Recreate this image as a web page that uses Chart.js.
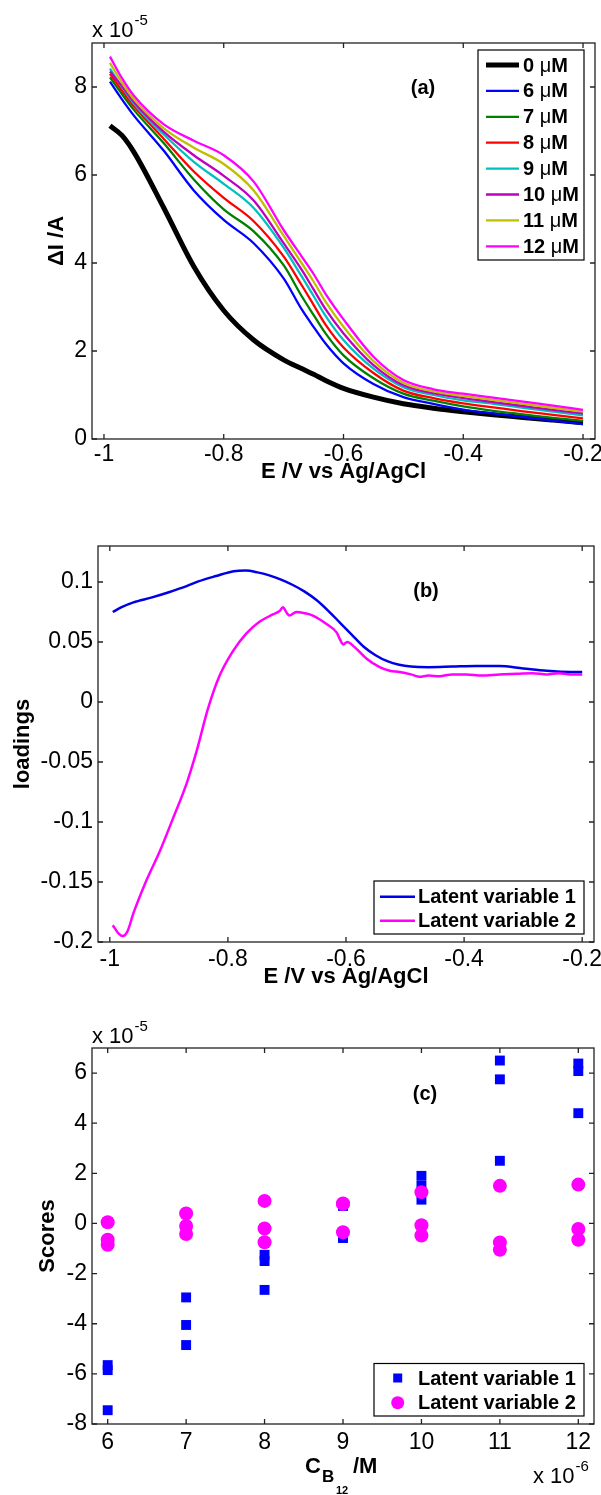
<!DOCTYPE html>
<html><head><meta charset="utf-8">
<script src="https://cdn.jsdelivr.net/npm/chart.js@4.4.0/dist/chart.umd.min.js"></script>
<style>
html,body{margin:0;padding:0;background:#fff;}
body{width:601px;height:1495px;position:relative;overflow:hidden;}
.pane{position:absolute;left:0;width:601px;}
canvas{display:block;}
</style></head><body>
<div class="pane" style="top:0;height:490px"><canvas id="ca" width="601" height="490"></canvas></div>
<div class="pane" style="top:500px;height:500px"><canvas id="cb" width="601" height="500"></canvas></div>
<div class="pane" style="top:1000px;height:495px"><canvas id="cc" width="601" height="495"></canvas></div>
<script>
// ================= DATA =================
// Panel (a): differential current, in units of 1e-5 A
const potentialA = [-0.99, -0.97, -0.95, -0.90, -0.85, -0.80, -0.75, -0.70, -0.67, -0.65, -0.63, -0.60, -0.55, -0.50, -0.45, -0.40, -0.35, -0.30, -0.25, -0.20];
const concUM = [0, 6, 7, 8, 9, 10, 11, 12];
const dI_0uM  = [7.12, 6.90, 6.52, 5.25, 3.92, 2.92, 2.25, 1.80, 1.60, 1.47, 1.33, 1.15, 0.95, 0.80, 0.70, 0.62, 0.55, 0.49, 0.43, 0.37];
const dI_6uM  = [8.12, 7.72, 7.35, 6.55, 5.65, 4.98, 4.45, 3.65, 2.95, 2.55, 2.17, 1.72, 1.25, 0.95, 0.80, 0.67, 0.58, 0.50, 0.42, 0.34];
const dI_7uM  = [8.22, 7.84, 7.48, 6.72, 5.90, 5.22, 4.72, 3.95, 3.25, 2.82, 2.40, 1.90, 1.38, 1.03, 0.87, 0.74, 0.64, 0.56, 0.48, 0.41];
const dI_8uM  = [8.30, 7.92, 7.56, 6.82, 6.08, 5.48, 4.95, 4.15, 3.50, 3.05, 2.60, 2.08, 1.50, 1.10, 0.93, 0.81, 0.72, 0.63, 0.55, 0.47];
const dI_9uM  = [8.42, 8.00, 7.62, 6.92, 6.30, 5.80, 5.25, 4.35, 3.70, 3.25, 2.80, 2.25, 1.60, 1.18, 1.00, 0.88, 0.80, 0.71, 0.62, 0.54];
const dI_10uM = [8.35, 8.02, 7.66, 6.98, 6.45, 5.98, 5.42, 4.45, 3.85, 3.40, 2.95, 2.40, 1.68, 1.22, 1.04, 0.93, 0.84, 0.75, 0.66, 0.58];
const dI_11uM = [8.55, 8.10, 7.72, 7.06, 6.62, 6.25, 5.65, 4.62, 4.00, 3.58, 3.12, 2.55, 1.77, 1.28, 1.08, 0.98, 0.89, 0.80, 0.71, 0.62];
const dI_12uM = [8.69, 8.20, 7.80, 7.15, 6.78, 6.45, 5.85, 4.75, 4.15, 3.75, 3.30, 2.72, 1.87, 1.34, 1.13, 1.03, 0.94, 0.85, 0.76, 0.66];
const xTicksE = [-1, -0.8, -0.6, -0.4, -0.2];
const xTickLabelsE = ['-1', '-0.8', '-0.6', '-0.4', '-0.2'];
const yTicksA = [0, 2, 4, 6, 8];
const yTickLabelsA = ['0', '2', '4', '6', '8'];

// Panel (b): PLS loadings
const potentialLV1 = [-0.995, -0.98, -0.96, -0.93, -0.90, -0.87, -0.85, -0.82, -0.79, -0.77, -0.75, -0.73, -0.71, -0.69, -0.67, -0.65, -0.63, -0.61, -0.59, -0.57, -0.55, -0.53, -0.51, -0.49, -0.46, -0.42, -0.38, -0.34, -0.30, -0.26, -0.22, -0.20];
const loadingLV1   = [0.075, 0.079, 0.083, 0.087, 0.0915, 0.0965, 0.1005, 0.105, 0.109, 0.1095, 0.108, 0.1055, 0.102, 0.0975, 0.092, 0.085, 0.076, 0.066, 0.056, 0.046, 0.039, 0.034, 0.031, 0.0295, 0.029, 0.0295, 0.030, 0.030, 0.028, 0.026, 0.025, 0.025];
const potentialLV2 = [-0.995, -0.985, -0.978, -0.97, -0.96, -0.94, -0.915, -0.893, -0.870, -0.853, -0.834, -0.814, -0.792, -0.769, -0.746, -0.724, -0.712, -0.707, -0.700, -0.696, -0.684, -0.670, -0.656, -0.633, -0.616, -0.610, -0.605, -0.598, -0.585, -0.565, -0.543, -0.526, -0.509, -0.49, -0.476, -0.46, -0.442, -0.42, -0.396, -0.37, -0.34, -0.31, -0.284, -0.26, -0.24, -0.22, -0.20];
const loadingLV2   = [-0.186, -0.193, -0.195, -0.191, -0.176, -0.151, -0.124, -0.097, -0.068, -0.041, -0.006, 0.022, 0.042, 0.057, 0.067, 0.073, 0.076, 0.079, 0.074, 0.072, 0.075, 0.074, 0.072, 0.065, 0.058, 0.052, 0.048, 0.050, 0.0455, 0.036, 0.029, 0.026, 0.025, 0.023, 0.021, 0.022, 0.0215, 0.023, 0.023, 0.022, 0.023, 0.0235, 0.024, 0.023, 0.024, 0.023, 0.023];
const yTicksB = [-0.2, -0.15, -0.1, -0.05, 0, 0.05, 0.1];
const yTickLabelsB = ['-0.2', '-0.15', '-0.1', '-0.05', '0', '0.05', '0.1'];

// Panel (c): PLS scores (x in 1e-6 M, y in 1e-5)
const scoreConc = [6, 6, 6, 7, 7, 7, 8, 8, 8, 9, 9, 9, 10, 10, 10, 11, 11, 11, 12, 12, 12];
const scoreLV1  = [-5.65, -5.85, -7.45, -2.95, -4.05, -4.85, -1.25, -1.5, -2.65, 0.7, -0.5, -0.58, 1.9, 1.5, 0.95, 6.5, 5.75, 2.5, 6.38, 6.08, 4.4];
const scoreLV2  = [0.05, -0.65, -0.85, 0.4, -0.1, -0.42, 0.9, -0.2, -0.75, 0.8, 0.78, -0.35, 1.25, -0.07, -0.48, 1.5, -0.76, -1.05, 1.55, -0.22, -0.65];
const xTicksC = [6, 7, 8, 9, 10, 11, 12];
const xTickLabelsC = ['6', '7', '8', '9', '10', '11', '12'];
const yTicksC = [-8, -6, -4, -2, 0, 2, 4, 6];
const yTickLabelsC = ['-8', '-6', '-4', '-2', '0', '2', '4', '6'];
const lvNames = ['Latent variable 1', 'Latent variable 2'];

// ================= STYLE / HELPERS =================
const FONT = "'Liberation Sans', Arial, Helvetica, sans-serif";
Chart.defaults.font.family = FONT;
Chart.defaults.color = '#000';

function axis(o) {
  return {
    type: 'linear', min: o.min, max: o.max,
    afterBuildTicks: s => { s.ticks = o.vals.map(v => ({ value: v })); },
    afterFit: s => {
      if (o.h != null) s.height = o.h;
      if (o.w != null) s.width = o.w;
      s.paddingLeft = 0; s.paddingRight = 0; s.paddingTop = 0; s.paddingBottom = 0;
    },
    grid: { display: false, drawTicks: false }, border: { display: false },
    ticks: { autoSkip: false, maxRotation: 0, minRotation: 0, padding: o.tickPad, color: '#000',
      font: { size: 23 }, callback: (v, i) => o.labels[i] },
    title: o.title ? { display: true, text: o.title, color: '#000', font: { size: 22, weight: 'bold' }, padding: o.titlePad } : { display: false }
  };
}

const boxPlugin = {
  id: 'matlabBox',
  afterDraw(chart) {
    const { ctx, chartArea: a, scales: { x, y } } = chart;
    ctx.save();
    ctx.strokeStyle = '#222'; ctx.lineWidth = 1.3;
    ctx.beginPath();
    x.ticks.forEach(t => {
      const p = x.getPixelForValue(t.value);
      ctx.moveTo(p, a.bottom); ctx.lineTo(p, a.bottom - 5);
      ctx.moveTo(p, a.top); ctx.lineTo(p, a.top + 5);
    });
    y.ticks.forEach(t => {
      const p = y.getPixelForValue(t.value);
      ctx.moveTo(a.left, p); ctx.lineTo(a.left + 5, p);
      ctx.moveTo(a.right, p); ctx.lineTo(a.right - 5, p);
    });
    ctx.stroke();
    ctx.strokeRect(a.left, a.top, a.right - a.left, a.bottom - a.top);
    ctx.restore();
  }
};

function txt(ctx, s, x, y, font, align, base) {
  ctx.font = font; ctx.textAlign = align || 'left'; ctx.textBaseline = base || 'alphabetic';
  ctx.fillStyle = '#000'; ctx.fillText(s, x, y);
  return ctx.measureText(s).width;
}
function expLabel(ctx, x, yBase, expo) {
  const w = txt(ctx, 'x 10', x, yBase, '22px ' + FONT);
  txt(ctx, expo, x + w + 1, yBase - 12, '15px ' + FONT);
}
function legendBox(ctx, bx, by, bw, bh) {
  ctx.fillStyle = '#fff'; ctx.fillRect(bx, by, bw, bh);
  ctx.strokeStyle = '#000'; ctx.lineWidth = 1.2; ctx.strokeRect(bx, by, bw, bh);
}

// ================= PANEL (a) =================
const seriesA = [dI_0uM, dI_6uM, dI_7uM, dI_8uM, dI_9uM, dI_10uM, dI_11uM, dI_12uM];
const colorsA = ['#000000', '#0000FF', '#008000', '#FF0000', '#00BFBF', '#BF00BF', '#BFBF00', '#FF00FF'];
const annotA = {
  id: 'annotA',
  afterDraw(chart) {
    const ctx = chart.ctx; ctx.save();
    expLabel(ctx, 92, 37, '-5');
    txt(ctx, '(a)', 423, 88, 'bold 20px ' + FONT, 'center', 'middle');
    legendBox(ctx, 478, 50, 106, 210);
    chart.data.datasets.forEach((ds, i) => {
      const yy = 65 + i * 25.9;
      ctx.strokeStyle = ds.borderColor; ctx.lineWidth = ds.borderWidth;
      ctx.beginPath(); ctx.moveTo(486, yy); ctx.lineTo(519, yy); ctx.stroke();
      let x = 523;
      x += txt(ctx, ds.label + ' ', x, yy + 1, 'bold 20px ' + FONT, 'left', 'middle');
      x += txt(ctx, '\u03BC', x, yy + 1, '20px ' + FONT, 'left', 'middle');
      txt(ctx, 'M', x, yy + 1, 'bold 20px ' + FONT, 'left', 'middle');
    });
    ctx.restore();
  }
};
new Chart(document.getElementById('ca'), {
  type: 'line',
  data: { datasets: seriesA.map((ys, k) => ({
    label: String(concUM[k]),
    data: potentialA.map((e, i) => ({ x: e, y: ys[i] })),
    borderColor: colorsA[k], borderWidth: k === 0 ? 5 : 2.3,
    pointRadius: 0, fill: false, cubicInterpolationMode: 'monotone', order: -k
  })) },
  options: {
    responsive: false, animation: false, events: [],
    layout: { padding: { left: 0, right: 6, top: 43, bottom: 0 } },
    plugins: { legend: { display: false }, tooltip: { enabled: false } },
    scales: {
      x: axis({ min: -1.02, max: -0.18, vals: xTicksE, labels: xTickLabelsE, h: 51, tickPad: 2,
        title: 'E /V vs Ag/AgCl', titlePad: { top: 0, bottom: 4.8 } }),
      y: axis({ min: 0, max: 9, vals: yTicksA, labels: yTickLabelsA, w: 92, tickPad: 5,
        title: '\u0394I /A', titlePad: { top: 43.8, bottom: 0 } })
    }
  },
  plugins: [boxPlugin, annotA]
});

// ================= PANEL (b) =================
const annotB = {
  id: 'annotB',
  afterDraw(chart) {
    const ctx = chart.ctx; ctx.save();
    txt(ctx, '(b)', 426, 91, 'bold 20px ' + FONT, 'center', 'middle');
    legendBox(ctx, 374, 381, 210, 53);
    chart.data.datasets.forEach((ds, i) => {
      const yy = 396.7 + i * 24;
      ctx.strokeStyle = ds.borderColor; ctx.lineWidth = 2.5;
      ctx.beginPath(); ctx.moveTo(380, yy); ctx.lineTo(415, yy); ctx.stroke();
      txt(ctx, ds.label, 418, yy + 1, 'bold 20px ' + FONT, 'left', 'middle');
    });
    ctx.restore();
  }
};
new Chart(document.getElementById('cb'), {
  type: 'line',
  data: { datasets: [
    { label: lvNames[0], data: potentialLV1.map((e, i) => ({ x: e, y: loadingLV1[i] })),
      borderColor: '#0000E6', borderWidth: 2.5, pointRadius: 0, cubicInterpolationMode: 'monotone', order: 1 },
    { label: lvNames[1], data: potentialLV2.map((e, i) => ({ x: e, y: loadingLV2[i] })),
      borderColor: '#FF00FF', borderWidth: 2.5, pointRadius: 0, cubicInterpolationMode: 'monotone', order: 0 }
  ] },
  options: {
    responsive: false, animation: false, events: [],
    layout: { padding: { left: 0, right: 7, top: 46, bottom: 0 } },
    plugins: { legend: { display: false }, tooltip: { enabled: false } },
    scales: {
      x: axis({ min: -1.02, max: -0.18, vals: xTicksE, labels: xTickLabelsE, h: 58, tickPad: 3.7,
        title: 'E /V vs Ag/AgCl', titlePad: { top: 0, bottom: 9.8 } }),
      y: axis({ min: -0.2, max: 0.13, vals: yTicksB, labels: yTickLabelsB, w: 98, tickPad: 5,
        title: 'loadings', titlePad: { top: 9.8, bottom: 0 } })
    }
  },
  plugins: [boxPlugin, annotB]
});

// ================= PANEL (c) =================
const annotC = {
  id: 'annotC',
  afterDraw(chart) {
    const ctx = chart.ctx; ctx.save();
    expLabel(ctx, 92, 43, '-5');
    expLabel(ctx, 533, 483, '-6');
    txt(ctx, '(c)', 425, 94, 'bold 20px ' + FONT, 'center', 'middle');
    // x-axis title with subscripts: C_{B_{12}} /M
    txt(ctx, 'C', 305, 473, 'bold 22px ' + FONT);
    txt(ctx, 'B', 322, 482, 'bold 17px ' + FONT);
    txt(ctx, '12', 336, 494, 'bold 11px ' + FONT);
    txt(ctx, '/M', 353, 473, 'bold 22px ' + FONT);
    legendBox(ctx, 374, 363.5, 210, 52.5);
    const ds = chart.data.datasets;
    let yy = 378;
    ctx.fillStyle = ds[0].backgroundColor; ctx.fillRect(397.7 - 4.5, yy - 4.5, 9, 9);
    txt(ctx, ds[0].label, 418, yy + 1, 'bold 20px ' + FONT, 'left', 'middle');
    yy = 402.7;
    ctx.fillStyle = ds[1].backgroundColor; ctx.beginPath(); ctx.arc(397.7, yy, 6.5, 0, Math.PI * 2); ctx.fill();
    txt(ctx, ds[1].label, 418, yy + 1, 'bold 20px ' + FONT, 'left', 'middle');
    ctx.restore();
  }
};
new Chart(document.getElementById('cc'), {
  type: 'scatter',
  data: { datasets: [
    { label: lvNames[0], data: scoreConc.map((c, i) => ({ x: c, y: scoreLV1[i] })),
      pointStyle: 'rect', pointRadius: 7, pointBorderWidth: 0, backgroundColor: '#0000FF', borderColor: '#0000FF', order: 1 },
    { label: lvNames[1], data: scoreConc.map((c, i) => ({ x: c, y: scoreLV2[i] })),
      pointStyle: 'circle', pointRadius: 7, pointBorderWidth: 0, backgroundColor: '#FF00FF', borderColor: '#FF00FF', order: 0 }
  ] },
  options: {
    responsive: false, animation: false, events: [],
    layout: { padding: { left: 0, right: 7, top: 48, bottom: 0 } },
    plugins: { legend: { display: false }, tooltip: { enabled: false } },
    scales: {
      x: axis({ min: 5.8, max: 12.2, vals: xTicksC, labels: xTickLabelsC, h: 71, tickPad: 4.7 }),
      y: axis({ min: -8, max: 7, vals: yTicksC, labels: yTickLabelsC, w: 92, tickPad: 5,
        title: 'Scores', titlePad: { top: 34.8, bottom: 0 } })
    }
  },
  plugins: [boxPlugin, annotC]
});
</script>
</body></html>
